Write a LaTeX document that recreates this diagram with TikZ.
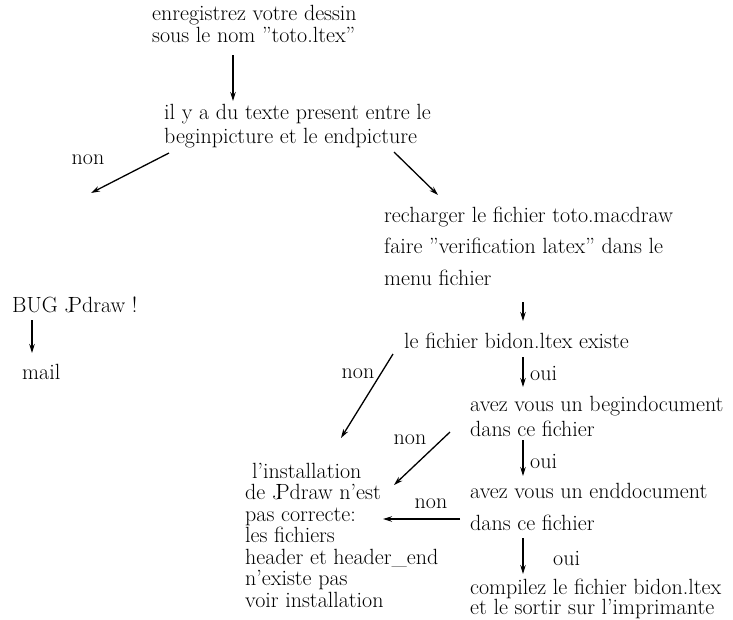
\documentclass[tikz,border=0pt]{standalone}
\usetikzlibrary{arrows.meta}
\begin{document}
\begin{tikzpicture}[x=1pt,y=-1pt,
  txt/.style={inner sep=0pt,anchor=west,align=left,font=\fontsize{22}{23}\selectfont},
  lbl/.style={inner sep=0pt,font=\fontsize{22}{23}\selectfont},
  arr/.style={line width=1.3pt,-{Stealth[length=9pt,width=5.5pt]}}]
\useasboundingbox (0,0) rectangle (733,619);
\newcommand{\jp}{J\kern-0.3em Pdraw}
% text blocks
\node[txt,font=\fontsize{22}{22}\selectfont] (A) at (152,24) {enregistrez votre dessin\\sous le nom ''toto.ltex''};
\node[txt,font=\fontsize{22}{24}\selectfont] (B) at (164,126) {il y a du texte present entre le\\beginpicture et le endpicture};
\node[txt,font=\fontsize{22}{31.5}\selectfont] (C) at (384,246) {recharger le fichier toto.macdraw\\faire ''verification latex'' dans le\\menu fichier};
\node[txt] (BUG) at (12,305) {BUG \jp\ !};
\node[txt] (mail) at (22,372) {mail};
\node[txt] (D) at (404,341) {le fichier bidon.ltex existe};
\node[txt,font=\fontsize{22}{25}\selectfont] (E) at (470,416.5) {avez vous un begindocument\\dans ce fichier};
\node[txt,font=\fontsize{22}{32}\selectfont] (F) at (470,507) {avez vous un enddocument\\dans ce fichier};
\node[txt,font=\fontsize{22}{20.5}\selectfont] (G) at (470,599) {compilez le fichier bidon.ltex\\et le sortir sur l'imprimante};
\node[txt,font=\fontsize{22}{21.5}\selectfont] (H) at (245,535) {\hspace{7pt}l'installation\\de \jp\ n'est\\pas correcte:\\les fichiers\\header et header\_end\\n'existe pas\\voir installation};
% labels
\node[lbl] (n1) at (88,160) {non};
\node[lbl] (n2) at (358,374) {non};
\node[lbl] (n3) at (410,440) {non};
\node[lbl] (n4) at (431,504) {non};
\node[lbl,anchor=west] (o1) at (530,373) {oui};
\node[lbl,anchor=west] (o2) at (530,461) {oui};
\node[lbl,anchor=west] (o3) at (553,558) {oui};
% arrow coordinates
\coordinate (a1s) at (233,55);  \coordinate (a1e) at (233,101);
\coordinate (a2s) at (169,153); \coordinate (a2e) at (91,193);
\coordinate (a3s) at (394,152); \coordinate (a3e) at (438,195);
\coordinate (a4s) at (523,302); \coordinate (a4e) at (523,321);
\coordinate (a5s) at (32,320);  \coordinate (a5e) at (32,353);
\coordinate (a6s) at (393,354); \coordinate (a6e) at (341,438);
\coordinate (a7s) at (523,357); \coordinate (a7e) at (523,387);
\coordinate (a8s) at (450,432); \coordinate (a8e) at (394,485);
\coordinate (a9s) at (523,440); \coordinate (a9e) at (523,476);
\coordinate (a10s) at (460,519); \coordinate (a10e) at (383,519);
\coordinate (a11s) at (523,538); \coordinate (a11e) at (523,574);
% connectors
\draw[arr] (a1s) -- (a1e);
\draw[arr] (a2s) -- (a2e);
\draw[arr] (a3s) -- (a3e);
\draw[arr] (a4s) -- (a4e);
\draw[arr] (a5s) -- (a5e);
\draw[arr] (a6s) -- (a6e);
\draw[arr] (a7s) -- (a7e);
\draw[arr] (a8s) -- (a8e);
\draw[arr] (a9s) -- (a9e);
\draw[arr] (a10s) -- (a10e);
\draw[arr] (a11s) -- (a11e);
\end{tikzpicture}
\end{document}
